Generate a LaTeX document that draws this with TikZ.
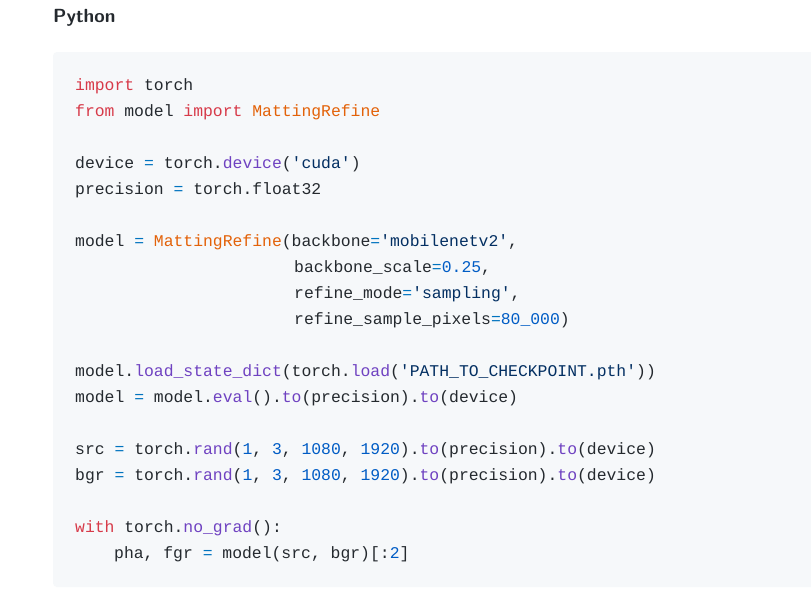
\documentclass[tikz,border=0pt]{standalone}
\usepackage{fontspec}
\setmainfont{Noto Sans}
\setmonofont{Liberation Mono}
\definecolor{txt}{HTML}{24292E}
\definecolor{kwc}{HTML}{D73A49}
\definecolor{fnc}{HTML}{6F42C1}
\definecolor{opc}{HTML}{0073BF}
\definecolor{stc}{HTML}{032F62}
\definecolor{nmc}{HTML}{005CC5}
\definecolor{clc}{HTML}{E36209}
\definecolor{bgc}{HTML}{F6F8FA}
\newcommand{\kw}[1]{\textcolor{kwc}{#1}}
\newcommand{\fn}[1]{\textcolor{fnc}{#1}}
\newcommand{\op}{\textcolor{opc}{=}}
\newcommand{\st}[1]{\textcolor{stc}{#1}}
\newcommand{\nm}[1]{\textcolor{nmc}{#1}}
\newcommand{\cl}[1]{\textcolor{clc}{#1}}
\begin{document}
\begin{tikzpicture}[x=1pt,y=-1pt,
  code/.style={anchor=west,inner sep=0pt,font=\fontsize{16.4}{18}\ttfamily,text=txt}]
\useasboundingbox (0,0) rectangle (811,589);
\fill[white] (0,0) rectangle (811,589);
\fill[bgc,rounded corners=4pt] (53,52) rectangle (820,587);
\node[anchor=west,inner sep=0pt,font=\fontsize{19}{22}\bfseries\sffamily,text=txt] (h) at (53,18) {Python};
\node[code] (l1) at (75,86) {\kw{import} torch};
\node[code] (l2) at (75,112) {\kw{from} model \kw{import} \cl{MattingRefine}};
\node[code] (l3) at (75,164) {device \op{} torch.\fn{device}(\st{'cuda'})};
\node[code] (l4) at (75,190) {precision \op{} torch.float32};
\node[code] (l5) at (75,242) {model \op{} \cl{MattingRefine}(backbone\op\st{'mobilenetv2'},};
\node[code] (l6) at (294,268) {backbone\_scale\op\nm{0.25},};
\node[code] (l7) at (294,294) {refine\_mode\op\st{'sampling'},};
\node[code] (l8) at (294,320) {refine\_sample\_pixels\op\nm{80\_000})};
\node[code] (l9) at (75,372) {model.\fn{load\_state\_dict}(torch.\fn{load}(\st{'PATH\_TO\_CHECKPOINT.pth'}))};
\node[code] (l10) at (75,398) {model \op{} model.\fn{eval}().\fn{to}(precision).\fn{to}(device)};
\node[code] (l11) at (75,450) {src \op{} torch.\fn{rand}(\nm{1}, \nm{3}, \nm{1080}, \nm{1920}).\fn{to}(precision).\fn{to}(device)};
\node[code] (l12) at (75,476) {bgr \op{} torch.\fn{rand}(\nm{1}, \nm{3}, \nm{1080}, \nm{1920}).\fn{to}(precision).\fn{to}(device)};
\node[code] (l13) at (75,528) {\kw{with} torch.\fn{no\_grad}():};
\node[code] (l14) at (114,554) {pha, fgr \op{} model(src, bgr)[:\nm{2}]};
\end{tikzpicture}
\end{document}
